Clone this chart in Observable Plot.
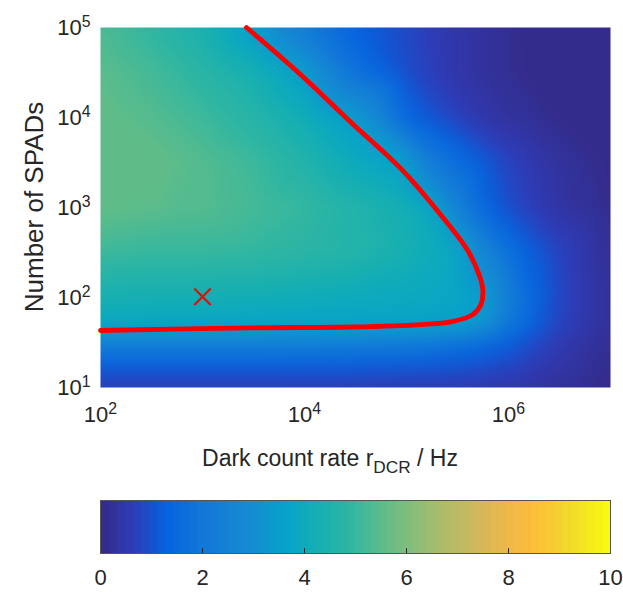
<!DOCTYPE html>
<html><head><meta charset="utf-8">
<script src="https://cdn.jsdelivr.net/npm/d3@7"></script>
<script src="https://cdn.jsdelivr.net/npm/@observablehq/plot@0.6"></script>
<style>
body{margin:0;background:#fff;font-family:"Liberation Sans",Arial,sans-serif;}
#chart{width:623px;height:592px;position:relative;overflow:hidden}
svg{display:block}
</style></head><body><div id="chart"></div>
<script>
// ---- data ----
// grid exponents: dark count rate (Hz) = 10^xExp, number of SPADs = 10^yExp
const xExp = [2, 2.5, 3, 3.5, 4, 4.5, 5, 5.25, 5.5, 5.75, 6, 6.25, 6.5, 7];
const yExp = [5, 4.5, 4, 3.5, 3, 2.5, 2, 1.8, 1.65, 1.5, 1.25, 1];
const values = [
  [5.3, 4.9, 4.4, 3.45, 2.15, 1.3, 0.85, 0.6, 0.42, 0.28, 0.15, 0.1, 0.06, 0.02],
  [5.5, 5.2, 4.8, 4.3, 3.5, 1.8, 0.95, 0.65, 0.42, 0.28, 0.16, 0.1, 0.06, 0.02],
  [5.6, 5.4, 5.1, 4.7, 4.15, 3.4, 1.45, 1.05, 0.7, 0.45, 0.3, 0.18, 0.1, 0.03],
  [5.6, 5.6, 5.4, 5.1, 4.6, 3.95, 3.45, 2.2, 1.65, 1.2, 0.75, 0.5, 0.3, 0.05],
  [5.6, 5.5, 5.4, 5.2, 5.0, 4.6, 4.2, 3.8, 2.4, 1.45, 0.95, 0.62, 0.35, 0.1],
  [5.1, 5.0, 5.0, 4.95, 4.8, 4.65, 4.3, 4.0, 3.8, 2.7, 1.8, 1.2, 0.75, 0.15],
  [4.3, 4.25, 4.2, 4.15, 4.05, 3.95, 3.9, 3.85, 3.75, 3.55, 2.3, 1.45, 0.8, 0.2],
  [4.0, 3.95, 3.9, 3.85, 3.8, 3.8, 3.75, 3.72, 3.68, 3.45, 2.1, 1.35, 0.78, 0.2],
  [3.65, 3.63, 3.6, 3.58, 3.56, 3.55, 3.5, 3.45, 3.35, 3.0, 1.9, 1.25, 0.72, 0.2],
  [2.4, 2.4, 2.4, 2.4, 2.35, 2.3, 2.2, 2.05, 1.85, 1.6, 1.3, 0.85, 0.55, 0.15],
  [1.3, 1.3, 1.3, 1.3, 1.28, 1.25, 1.2, 1.15, 1.1, 1.0, 0.82, 0.6, 0.42, 0.12],
  [0.55, 0.55, 0.55, 0.55, 0.55, 0.55, 0.53, 0.52, 0.5, 0.47, 0.42, 0.34, 0.25, 0.08]
];
// red boundary curve
const lineDcr = [2.7e3, 9.3e3, 2.9e4, 9.1e4, 2.2e5, 4.0e5, 5.2e5, 5.6e5, 5.4e5, 4.5e5, 2.8e5, 1.4e5, 2.9e4, 3.0e3, 1e2];
const lineN   = [1e5, 2.95e4, 8.7e3, 2.6e3, 810, 330, 174, 120, 85, 65, 54, 50, 47, 46, 43];
// marker
const markerDcr = [1000];
const markerN = [102];
// ticks
const xTicks = [1e2, 1e4, 1e6];
const yTicks = [1e1, 1e2, 1e3, 1e4, 1e5];
const cbTicks = [0, 2, 4, 6, 8, 10];
// parula-like colormap stops
const parulaStops = [0, 0.065, 0.13, 0.2, 0.29, 0.36, 0.42, 0.49, 0.55, 0.62, 0.685, 0.75, 0.815, 0.85, 0.91, 1];
const parulaColors = ["#352a87", "#2e3dba", "#0463e0", "#1278d7", "#168ad2", "#06a2cb", "#13aeb4", "#2eb6a3", "#5cbc8a", "#8cbd77", "#b5bc66", "#d6b758", "#f4b944", "#fdbd3a", "#f2d52d", "#f9fb0e"];

// ---- build ----
const parulaScale = d3.scaleLinear().domain(parulaStops).range(parulaColors).clamp(true);
const parula = t => parulaScale((Math.min(63, Math.max(0, Math.floor(t * 64))) + 0.5) / 64);

const grid = [];
yExp.forEach((ye, i) => xExp.forEach((xe, j) => grid.push({dcr: 10 ** xe, n: 10 ** ye, v: values[i][j]})));
const curve = lineDcr.map((d, i) => ({dcr: d, n: lineN[i]}));
const marker = markerDcr.map((d, i) => ({dcr: d, n: markerN[i]}));

const FONT = '"Liberation Sans", Arial, Helvetica, sans-serif';
const colorOpt = {type: "linear", domain: [0, 10], interpolate: parula};
const expFmt = d => "10^" + Math.round(Math.log10(d));

const main = Plot.plot({
  width: 623, height: 482,
  marginLeft: 100, marginRight: 13, marginTop: 27, marginBottom: 95,
  style: {fontFamily: FONT, fontSize: "22px", color: "#262626", background: "transparent"},
  x: {type: "log", domain: [1e2, 1e7]},
  y: {type: "log", domain: [1e1, 1e5]},
  color: colorOpt,
  marks: [
    Plot.raster(grid, {x: "dcr", y: "n", fill: "v", interpolate: "barycentric", blur: 8}),
    Plot.line(curve, {x: "dcr", y: "n", stroke: "#ff0000", strokeWidth: 4.8, curve: "catmull-rom"}),
    Plot.dot(marker, {x: "dcr", y: "n", symbol: "times", r: 7.5, stroke: "#ff0000", strokeWidth: 2.2}),
    Plot.axisX({ticks: xTicks, tickSize: 0, tickPadding: 19, tickFormat: expFmt, label: null, fontSize: 22}),
    Plot.axisY({ticks: yTicks, tickSize: 0, tickPadding: 10, tickFormat: expFmt, label: null, fontSize: 22})
  ]
});

const cbar = Plot.plot({
  width: 623, height: 110,
  marginLeft: 100, marginRight: 13, marginTop: 18, marginBottom: 39,
  style: {fontFamily: FONT, fontSize: "22px", color: "#262626", background: "transparent"},
  x: {domain: [0, 10]},
  y: {domain: [0, 1], axis: null},
  color: colorOpt,
  marks: [
    Plot.raster({fill: (x, y) => x, x1: 0, x2: 10, y1: 0, y2: 1}),
    Plot.ruleX(cbTicks.slice(1, -1), {x: d => d, y1: 0, y2: 0.09, stroke: "#262626", strokeWidth: 1}),
    Plot.frame({stroke: "#555", strokeWidth: 1}),
    Plot.axisX({ticks: cbTicks, tickSize: 0, tickPadding: 16, tickFormat: d => String(d), label: null, fontSize: 22})
  ]
});

const root = document.getElementById("chart");
root.appendChild(main);
root.appendChild(cbar);

// superscript exponents on tick labels
d3.select(main).selectAll('g[aria-label$="tick label"] text').each(function () {
  const s = this.textContent;
  const m = s.match(/^10\^(\d+)$/);
  if (!m) return;
  const t = d3.select(this);
  t.text("10");
  t.append("tspan").attr("dy", "-0.5em").attr("font-size", "0.72em").text(m[1]);
});

// axis titles with subscript
const svg = d3.select(main);
const xt = svg.append("text").attr("x", 330).attr("y", 466)
  .attr("text-anchor", "middle").attr("font-size", 23).attr("fill", "#262626").attr("font-family", FONT);
xt.append("tspan").text("Dark count rate r");
xt.append("tspan").attr("font-size", "0.75em").attr("dy", "0.38em").text("DCR");
xt.append("tspan").attr("dy", "-0.28em").text(" / Hz");

svg.append("text").attr("transform", "translate(43,207) rotate(-90)")
  .attr("text-anchor", "middle").attr("font-size", 26).attr("fill", "#262626").attr("font-family", FONT)
  .text("Number of SPADs");
</script></body></html>
